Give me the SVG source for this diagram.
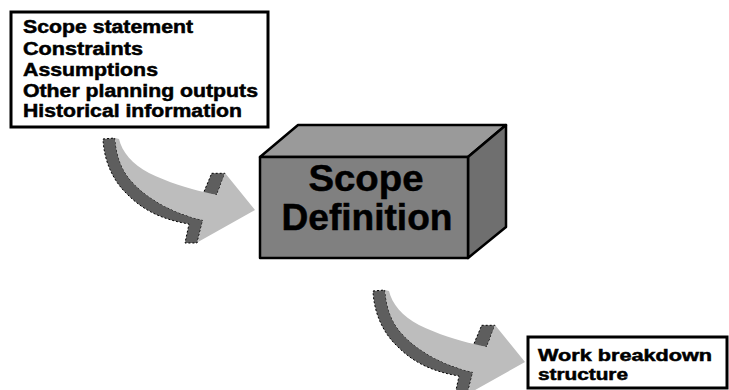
<svg xmlns="http://www.w3.org/2000/svg" xmlns:xlink="http://www.w3.org/1999/xlink" width="729" height="390" viewBox="0 0 729 390">
  <style>
    .label { font-family: "Liberation Sans", Arial, sans-serif; font-weight: bold; fill: #000; stroke: #000; stroke-width: 0.5; }
    .box { fill: #fff; stroke: #000; stroke-width: 3; }
    .edge { stroke: #000; stroke-width: 2.5; stroke-linejoin: round; }
    .arrow-side { fill: #5e5e5e; stroke: #000; stroke-width: 1; stroke-dasharray: 2 2; }
    .arrow-face { fill: #bdbdbd; }
  </style>
  <defs>
    <!-- curved 3D arrow, drawn at its first position -->
    <g id="curved-arrow">
      <path class="arrow-side" d="M103,139 L115,138 C117,158 122,172 135,185 C150,200 175,214 203,220 L197,243 L185,243 L189,224 C165,220 145,212 128,195 C112,180 104,160 103,139 Z"/>
      <polygon class="arrow-side" points="211.7,173.3 225,173.3 216.7,195 203.3,193.3"/>
      <path class="arrow-face" d="M115,138 L119,139 C122,152 132,164 149,173 C167,182 190,189 204,192 L217,195 L225,173 L255,210 L198,242 L203,220 C175,214 150,200 135,185 C122,172 117,158 115,138 Z"/>
    </g>
  </defs>
  <rect width="729" height="390" fill="#fff"/>

  <g id="connectors">
    <use xlink:href="#curved-arrow"/>
    <use xlink:href="#curved-arrow" transform="translate(270,152)"/>
  </g>

  <g id="inputs">
    <rect class="box" x="11" y="12" width="257" height="115"/>
    <text class="label" font-size="18" x="23" y="33" textLength="170" lengthAdjust="spacingAndGlyphs">Scope statement</text>
    <text class="label" font-size="18" x="23" y="55" textLength="120" lengthAdjust="spacingAndGlyphs">Constraints</text>
    <text class="label" font-size="18" x="23" y="76" textLength="135" lengthAdjust="spacingAndGlyphs">Assumptions</text>
    <text class="label" font-size="18" x="23" y="97" textLength="235" lengthAdjust="spacingAndGlyphs">Other planning outputs</text>
    <text class="label" font-size="18" x="23" y="117" textLength="219" lengthAdjust="spacingAndGlyphs">Historical information</text>
  </g>

  <g id="scope-definition">
    <polygon class="edge" fill="#9a9a9a" points="260,157 298,125 506,125 468,157"/>
    <polygon class="edge" fill="#6f6f6f" points="468,157 506,125 506,227 468,258"/>
    <rect class="edge" fill="#808080" x="260" y="157" width="208" height="101"/>
    <text class="label" font-size="36" x="366" y="191" text-anchor="middle" textLength="115" lengthAdjust="spacingAndGlyphs">Scope</text>
    <text class="label" font-size="36" x="367" y="230" text-anchor="middle" textLength="171" lengthAdjust="spacingAndGlyphs">Definition</text>
  </g>

  <g id="wbs">
    <rect class="box" x="528" y="337" width="199" height="51"/>
    <text class="label" font-size="16" x="538" y="361" textLength="174" lengthAdjust="spacingAndGlyphs">Work breakdown</text>
    <text class="label" font-size="16" x="538" y="380" textLength="90" lengthAdjust="spacingAndGlyphs">structure</text>
  </g>
</svg>
